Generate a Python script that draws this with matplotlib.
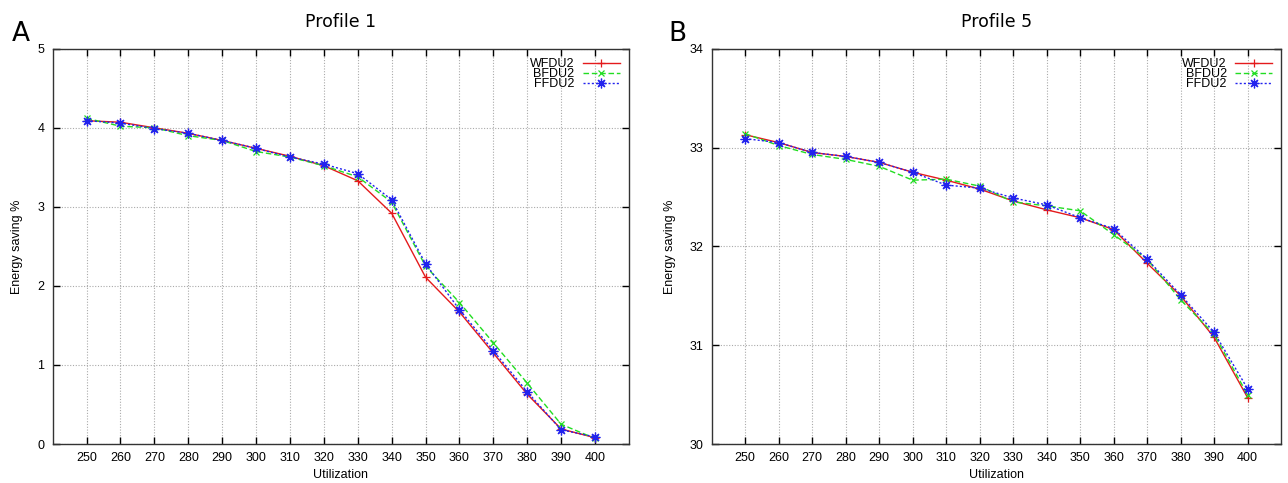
import matplotlib
matplotlib.use("Agg")
import matplotlib.pyplot as plt

utilization = [250, 260, 270, 280, 290, 300, 310, 320, 330, 340, 350, 360, 370, 380, 390, 400]

# Profile 1
p1_wfdu2 = [4.09, 4.07, 4.00, 3.93, 3.84, 3.74, 3.64, 3.52, 3.33, 2.92, 2.11, 1.67, 1.15, 0.63, 0.19, 0.08]
p1_bfdu2 = [4.12, 4.02, 4.00, 3.90, 3.84, 3.70, 3.63, 3.52, 3.38, 3.06, 2.25, 1.79, 1.28, 0.77, 0.25, 0.07]
p1_ffdu2 = [4.09, 4.06, 3.99, 3.93, 3.84, 3.74, 3.63, 3.54, 3.42, 3.09, 2.28, 1.70, 1.18, 0.66, 0.18, 0.09]

# Profile 5
p5_wfdu2 = [33.13, 33.05, 32.95, 32.91, 32.85, 32.75, 32.67, 32.58, 32.46, 32.37, 32.29, 32.17, 31.83, 31.50, 31.08, 30.47]
p5_bfdu2 = [33.14, 33.02, 32.93, 32.88, 32.81, 32.67, 32.68, 32.61, 32.45, 32.41, 32.36, 32.12, 31.87, 31.46, 31.11, 30.50]
p5_ffdu2 = [33.09, 33.05, 32.95, 32.91, 32.85, 32.75, 32.62, 32.59, 32.49, 32.42, 32.29, 32.18, 31.87, 31.51, 31.13, 30.56]

TICK_FONT = "Liberation Sans"


def draw_panel(ax, wf, bf, ff, ylim, yticks, title, letter, letter_x):
    ax.plot(utilization, wf, color="#e41a1c", lw=1.0, ls="-", marker="+",
            ms=6, mew=0.9, label="WFDU2")
    ax.plot(utilization, bf, color="#22dd22", lw=1.0, ls=(0, (4, 2)), marker="x",
            ms=5, mew=0.9, label="BFDU2")
    ax.plot(utilization, ff, color="#2222ee", lw=1.0, ls=(0, (1.5, 1.5)),
            marker=(8, 2, 0), ms=7, mew=0.9, label="FFDU2")

    ax.set_xlim(240, 410)
    ax.set_ylim(*ylim)
    ax.set_xticks(utilization)
    ax.set_yticks(yticks)
    ax.grid(True, color="#aaaaaa", ls=(0, (1, 1.5)), lw=0.8)
    ax.tick_params(direction="in", top=True, right=True, length=5, width=1.0,
                   labelsize=9, pad=6)
    for lab in ax.get_xticklabels() + ax.get_yticklabels():
        lab.set_fontfamily(TICK_FONT)
    for sp in ax.spines.values():
        sp.set_linewidth(1.0)
        sp.set_color("#333333")

    ax.set_xlabel("Utilization", fontsize=9, family=TICK_FONT, labelpad=3)
    ax.set_ylabel("Energy saving %", fontsize=9, family=TICK_FONT, labelpad=10)
    ax.set_title(title, fontsize=12.5, family="DejaVu Sans", pad=16)
    ax.text(letter_x, 1.02, letter, transform=ax.transAxes, fontsize=19,
            family="DejaVu Sans", ha="left", va="baseline")

    leg = ax.legend(loc="upper right", frameon=False, markerfirst=False,
                    prop={"family": TICK_FONT, "size": 9}, handlelength=2.9,
                    handletextpad=0.7, labelspacing=-0.15, borderaxespad=0.35)
    for t in leg.get_texts():
        t.set_ha("right")


fig = plt.figure(figsize=(12.88, 4.83), dpi=100)
ax1 = fig.add_axes([0.0409, 0.0807, 0.4474, 0.8184])
ax2 = fig.add_axes([0.5526, 0.0807, 0.442, 0.8184])

draw_panel(ax1, p1_wfdu2, p1_bfdu2, p1_ffdu2, (0, 5), [0, 1, 2, 3, 4, 5],
           "Profile 1", "A", -0.071)
draw_panel(ax2, p5_wfdu2, p5_bfdu2, p5_ffdu2, (30, 34), [30, 31, 32, 33, 34],
           "Profile 5", "B", -0.076)

fig.savefig("out.png", dpi=100)
